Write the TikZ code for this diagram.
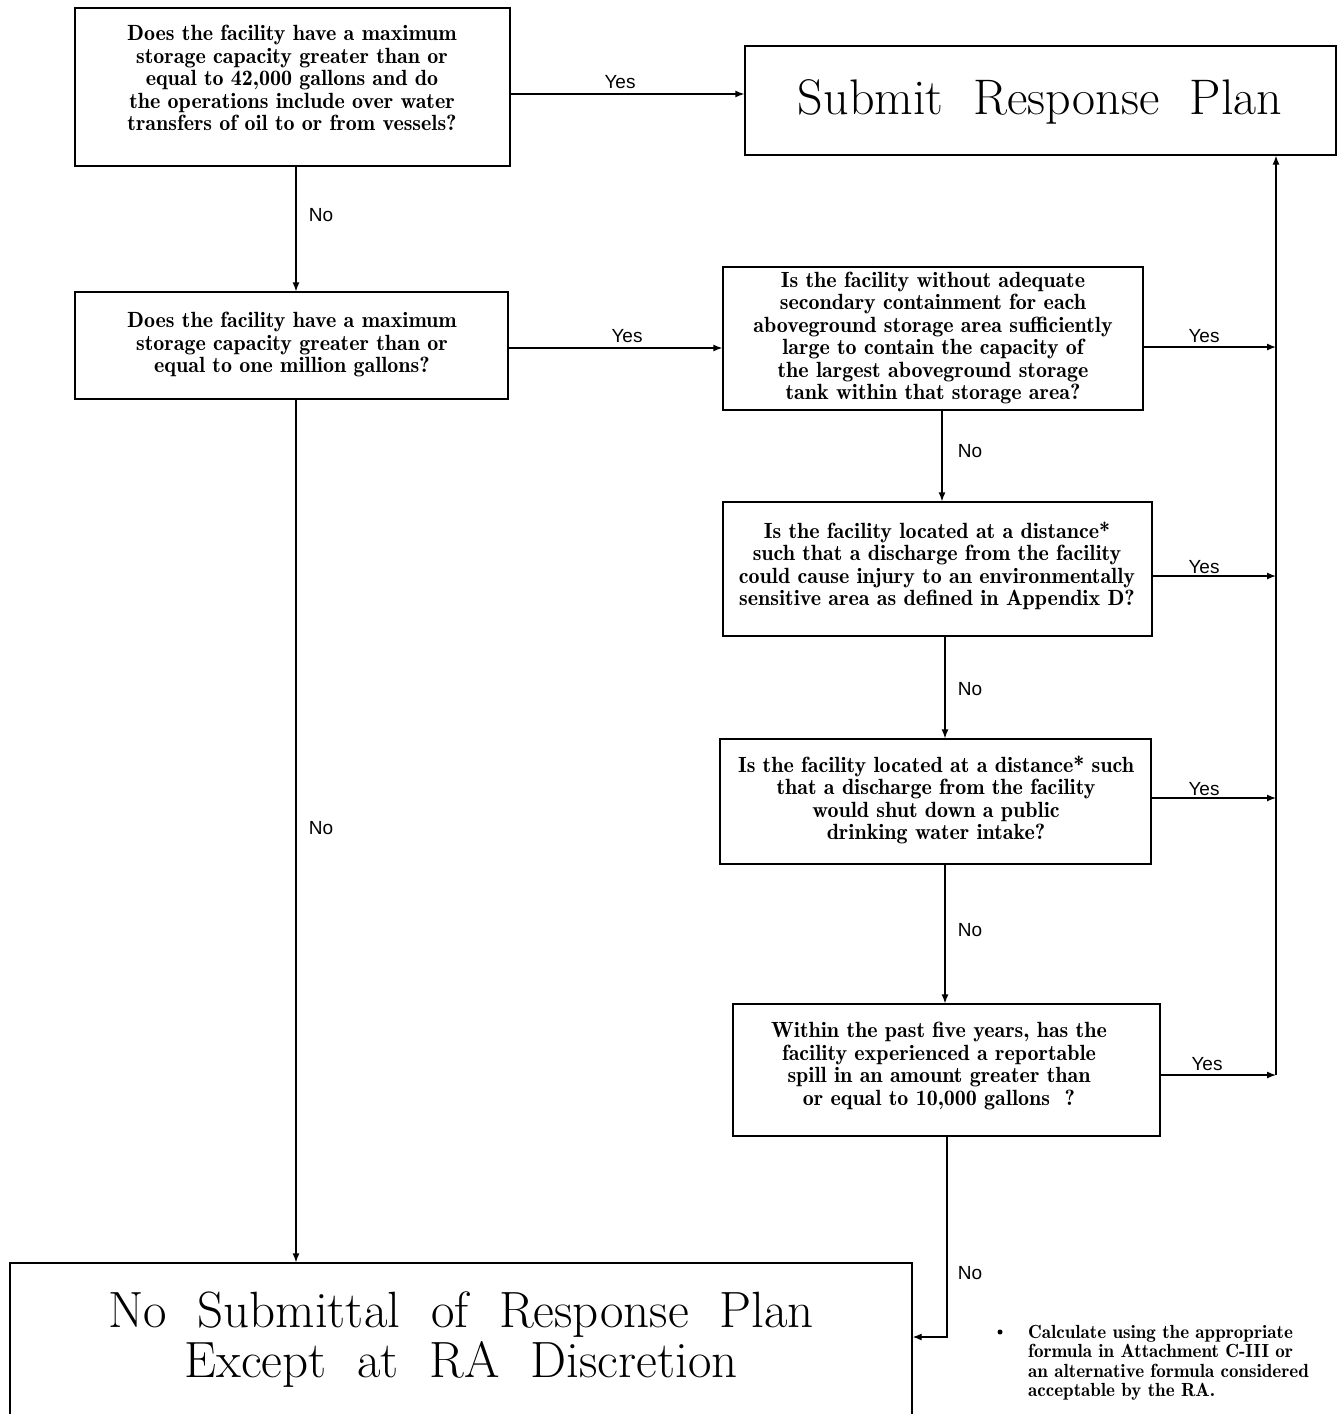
\documentclass[tikz,border=0pt]{standalone}
\usepackage{fontspec}
\newfontfamily\labfont{Liberation Sans}
\newfontfamily\qfont{lmromandemi10-regular.otf}
\usetikzlibrary{arrows.meta}
\begin{document}
\begin{tikzpicture}[x=1pt,y=-1pt,
  box/.style={draw,line width=1.3pt,inner sep=0pt},
  qtext/.style={align=center,font=\qfont\fontsize{22}{22.5}\selectfont,inner sep=0pt},
  bigtext/.style={align=center,font=\fontsize{50}{50}\selectfont,inner sep=0pt},
  lab/.style={font=\labfont\fontsize{19}{19}\selectfont,inner sep=0pt},
  arr/.style={line width=1.3pt,-{Latex[length=9pt,width=7pt]}}]
\useasboundingbox[fill=white] (0,0) rectangle (1341,1414);
% boxes
\node[box,minimum width=435pt,minimum height=158pt] (a) at (292.5,87) {};
\node[qtext] (at) at (292,78) {Does the facility have a maximum\\storage capacity greater than or\\equal to 42,000 gallons and do\\the operations include over water\\transfers of oil to or from vessels?};
\node[box,minimum width=591pt,minimum height=109pt] (sub) at (1040.5,100.5) {};
\node[bigtext] (subt) at (1040,102) {Submit\ \ Response\ \ Plan};
\node[box,minimum width=433pt,minimum height=107pt] (b) at (291.5,345.5) {};
\node[qtext] (bt) at (292,345) {Does the facility have a maximum\\storage capacity greater than or\\equal to one million gallons?};
\node[box,minimum width=420pt,minimum height=143pt] (c) at (933,338.5) {};
\node[qtext] (ct) at (933,338) {Is the facility without adequate\\secondary containment for each\\aboveground storage area sufficiently\\large to contain the capacity of\\the largest aboveground storage\\tank within that storage area?};
\node[box,minimum width=429pt,minimum height=134pt] (d) at (937.5,569) {};
\node[qtext] (dt) at (937,566) {Is the facility located at a distance*\\such that a discharge from the facility\\could cause injury to an environmentally\\sensitive area as defined in Appendix D?};
\node[box,minimum width=431pt,minimum height=125pt] (e) at (935.5,801.5) {};
\node[qtext] (et) at (936,800) {Is the facility located at a distance* such\\that a discharge from the facility\\would shut down a public\\drinking water intake?};
\node[box,minimum width=427pt,minimum height=132pt] (f) at (946.5,1070) {};
\node[qtext] (ft) at (939,1066) {Within the past five years, has the\\facility experienced a reportable\\spill in an amount greater than\\or equal to 10,000 gallons\ \ ?};
\node[box,minimum width=902pt,minimum height=157pt] (g) at (461,1341.5) {};
\node[align=center,font=\fontsize{51}{50}\selectfont,inner sep=0pt] (gt) at (461,1340) {No\ \ Submittal\ \ of\ \ Response\ \ Plan\\Except\ \ at\ \ RA\ \ Discretion};
% bus on the right
\coordinate (bc) at (1276,347);
\coordinate (bd) at (1276,576);
\coordinate (be) at (1276,798);
\coordinate (bf) at (1276,1075);
\coordinate (corner) at (947,1337);
% connectors
\draw[arr] (a.east |- 0,94) -- (sub.west |- 0,94);
\draw[arr] (a.south -| 296,0) -- (b.north -| 296,0);
\draw[arr] (b.east |- 0,348) -- (c.west |- 0,348);
\draw[arr] (b.south -| 296,0) -- (g.north -| 296,0);
\draw[arr] (c.south -| 942,0) -- (d.north -| 942,0);
\draw[arr] (d.south -| 945,0) -- (e.north -| 945,0);
\draw[arr] (e.south -| 945,0) -- (f.north -| 945,0);
\draw[arr] (f.south -| 947,0) -- (corner) -- (g.east |- corner);
\draw[arr] (c.east |- bc) -- (bc);
\draw[arr] (d.east |- bd) -- (bd);
\draw[arr] (e.east |- be) -- (be);
\draw[arr] (f.east |- bf) -- (bf);
\draw[arr] (bf) -- (sub.south -| bf);
% labels
\node[lab] at (620,82) {Yes};
\node[lab] at (321,215) {No};
\node[lab] at (627,336) {Yes};
\node[lab] at (321,828) {No};
\node[lab] at (1204,336) {Yes};
\node[lab] at (1204,567) {Yes};
\node[lab] at (1204,789) {Yes};
\node[lab] at (1207,1064) {Yes};
\node[lab] at (970,451) {No};
\node[lab] at (970,689) {No};
\node[lab] at (970,930) {No};
\node[lab] at (970,1273) {No};
% footnote
\fill (1000,1332) circle (2.5pt);
\node[anchor=north west,align=left,inner sep=0pt,font=\qfont\fontsize{19}{19.5}\selectfont] (fn) at (1028,1325) {Calculate using the appropriate\\formula in Attachment C-III or\\an alternative formula considered\\acceptable by the RA.};
\end{tikzpicture}
\end{document}
